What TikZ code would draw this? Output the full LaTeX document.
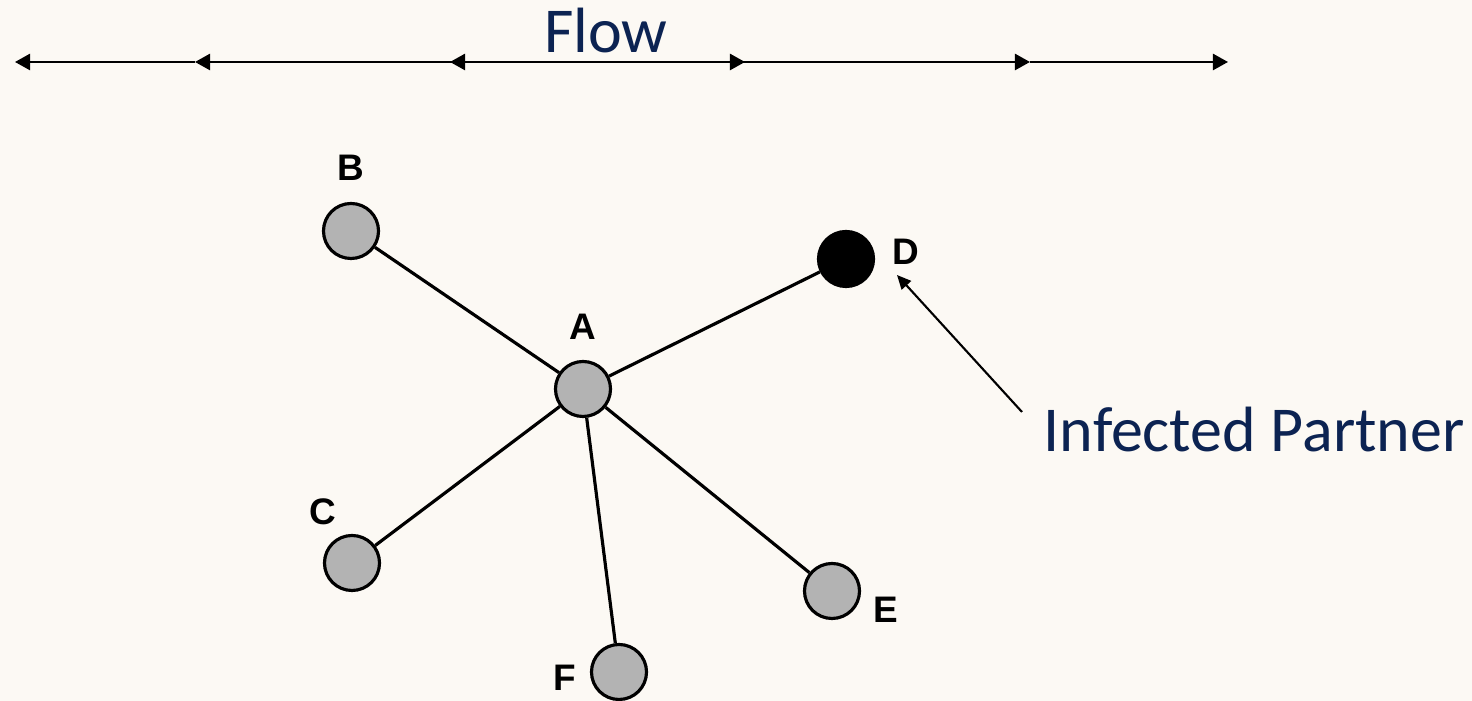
\documentclass[tikz,border=0pt]{standalone}
\usepackage{fontspec}
\setmainfont{Carlito}
\setsansfont{Liberation Sans}
\usetikzlibrary{arrows.meta}
\definecolor{bgcol}{HTML}{FCF9F4}
\definecolor{navy}{HTML}{0C2352}
\definecolor{nodegray}{HTML}{B3B3B3}
\tikzset{%
  % Specifications for style of nodes:
    person/.style = {circle, draw=black, line width=0.9pt, fill=nodegray,
                     minimum size=0.55cm, inner sep=0pt},
    infected/.style = {person, fill=black},
    lbl/.style = {inner sep=0pt, font=\fontsize{10.5}{12}\sffamily\bfseries},
    bigtext/.style = {inner sep=0pt, text=navy, font=\fontsize{18.2}{21}\selectfont},
    flowarrow/.style = {line width=0.65pt, -{Triangle[length=4.3pt,width=4.6pt]}},
    edge/.style = {line width=0.9pt}%
}
\begin{document}
\begin{tikzpicture}[x=0.01cm,y=-0.01cm]
\fill[bgcol] (0,0) rectangle (1472,701);
\useasboundingbox (0,0) rectangle (1472,701);

% flow line
\coordinate (F0) at (15,62);
\coordinate (F1) at (195,62);
\coordinate (F2) at (450,62);
\coordinate (F3) at (745,62);
\coordinate (F4) at (1030,62);
\coordinate (F5) at (1228,62);
\draw[flowarrow] (F1) -- (F0);
\draw[flowarrow] (F2) -- (F1);
\draw[flowarrow] (F3) -- (F2);
\draw[flowarrow] (F2) -- (F3);
\draw[flowarrow] (F3) -- (F4);
\draw[flowarrow] (F4) -- (F5);
\node[bigtext, anchor=base] (flow) at (606,53) {Flow};

% partners
\node[person] (A) at (583,389) {};
\node[person] (B) at (351,231) {};
\node[person] (C) at (352,563) {};
\node[infected] (D) at (846,259) {};
\node[person] (E) at (832,591) {};
\node[person] (F) at (619,672) {};

\node[lbl] (lA) at (583,327) {A};
\node[lbl] (lB) at (351,168) {B};
\node[lbl] (lC) at (323,512) {C};
\node[lbl] (lD) at (906,252) {D};
\node[lbl] (lE) at (886,610) {E};
\node[lbl] (lF) at (565,678) {F};

\draw[edge] (A) -- (B);
\draw[edge] (A) -- (C);
\draw[edge] (A) -- (D);
\draw[edge] (A) -- (E);
\draw[edge] (A) -- (F);

% pointer to the infected one
\node[bigtext, anchor=base west] (inf) at (1043,452) {Infected Partner};
\coordinate (P0) at (1022,412);
\coordinate (P1) at (897,275);
\draw[line width=0.6pt, -{Triangle[length=4pt,width=3.6pt]}] (P0) -- (P1);

\end{tikzpicture}
\end{document}
